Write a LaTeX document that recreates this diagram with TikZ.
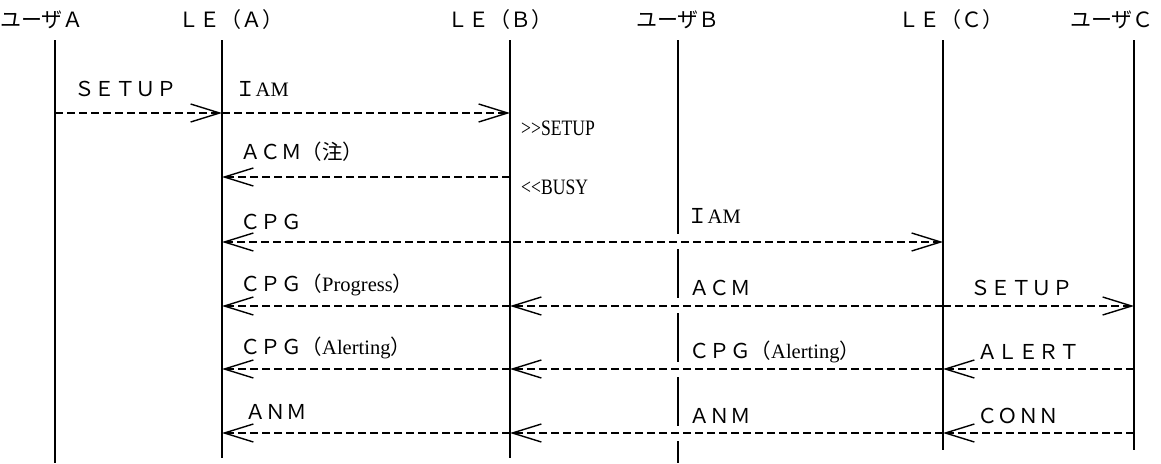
\documentclass[tikz,border=0pt]{standalone}
\usepackage{fontspec}
\setmainfont{Liberation Serif}
\newfontfamily\jp{Noto Sans CJK JP}
\newfontfamily\narrowfont[FakeStretch=0.8]{Liberation Serif}
\usetikzlibrary{arrows.meta}
\tikzset{life line/.style={line width=1.5pt},
	msg/.style={line width=1.3pt,dash pattern=on 8pt off 4pt},
	lbl/.style={anchor=west,inner sep=0pt,font=\jp\fontsize{20.5}{24}\selectfont},
	note/.style={anchor=west,inner sep=0pt,font=\narrowfont\fontsize{22}{24}\selectfont},
	head/.style={inner sep=0pt,font=\jp\fontsize{21}{24}\selectfont}}

\begin{document}
\begin{tikzpicture}[x=1pt,y=-1pt,>={Straight Barb[length=29pt,width=18pt,line width=1.4pt]}]
	\useasboundingbox (0,0) rectangle (1161,463);

	% headers
	\node [head] (hUA) at (42,20) {ユーザＡ};
	\node [head] (hLA) at (231,20) {ＬＥ（Ａ）};
	\node [head] (hLB) at (500,20) {ＬＥ（Ｂ）};
	\node [head] (hUB) at (678,20) {ユーザＢ};
	\node [head] (hLC) at (951,20) {ＬＥ（Ｃ）};
	\node [head] (hUC) at (1112,20) {ユーザＣ};

	% lifelines and message points
	\foreach \n/\x/\b in {uA/55/463, lA/222/458, lB/510/458, uB/678/463, lC/943/450, uC/1134/450}{
		\coordinate (\n-0) at (\x,40);
		\coordinate (\n-7) at (\x,\b);
		\foreach \r/\y in {1/113, 2/177, 3/242, 4/306, 5/369, 6/433}{
			\coordinate (\n-\r) at (\x,\y);
		}
	}
	\foreach \n in {uA,lA,lB,lC,uC}{
		\draw [life line] (\n-0) -- (\n-7);
	}
	\foreach \a/\b in {40/234, 249/298, 313/362, 377/426, 441/463}{
		\draw [life line] (678,\a) -- (678,\b);
	}

	% messages
	\foreach \s/\t in {uA-1/lA-1, lA-1/lB-1, lB-2/lA-2, lB-4/lA-4, lC-4/lB-4, lC-4/uC-4,
		lB-5/lA-5, lC-5/lB-5, uC-5/lC-5, lB-6/lA-6, lC-6/lB-6, uC-6/lC-6}{
		\draw [msg,->] (\s) -- (\t);
	}
	\draw [msg,<->] (lA-3) -- (lC-3);

	% labels
	\node [lbl] (m1a) at (74,89) {ＳＥＴＵＰ};
	\node [lbl] (m1b) at (235,89) {Ｉ{\rmfamily AM}};
	\node [note] (n1) at (521,128) {>\kern0pt>SETUP};
	\node [lbl] (m2) at (240,152) {ＡＣＭ（注）};
	\node [note] (n2) at (521,187) {<\kern0pt<BUSY};
	\node [lbl] (m3a) at (240,222) {ＣＰＧ};
	\node [lbl] (m3b) at (687,216) {Ｉ{\rmfamily AM}};
	\node [lbl] (m4a) at (240,285) {ＣＰＧ（{\rmfamily Progress}）};
	\node [lbl] (m4b) at (689,288) {ＡＣＭ};
	\node [lbl] (m4c) at (970,288) {ＳＥＴＵＰ};
	\node [lbl] (m5a) at (240,348) {ＣＰＧ（{\rmfamily Alerting}）};
	\node [lbl] (m5b) at (689,352) {ＣＰＧ（{\rmfamily Alerting}）};
	\node [lbl] (m5c) at (977,352) {ＡＬＥＲＴ};
	\node [lbl] (m6a) at (245,412) {ＡＮＭ};
	\node [lbl] (m6b) at (689,416) {ＡＮＭ};
	\node [lbl] (m6c) at (977,416) {ＣＯＮＮ};
\end{tikzpicture}
\end{document}
